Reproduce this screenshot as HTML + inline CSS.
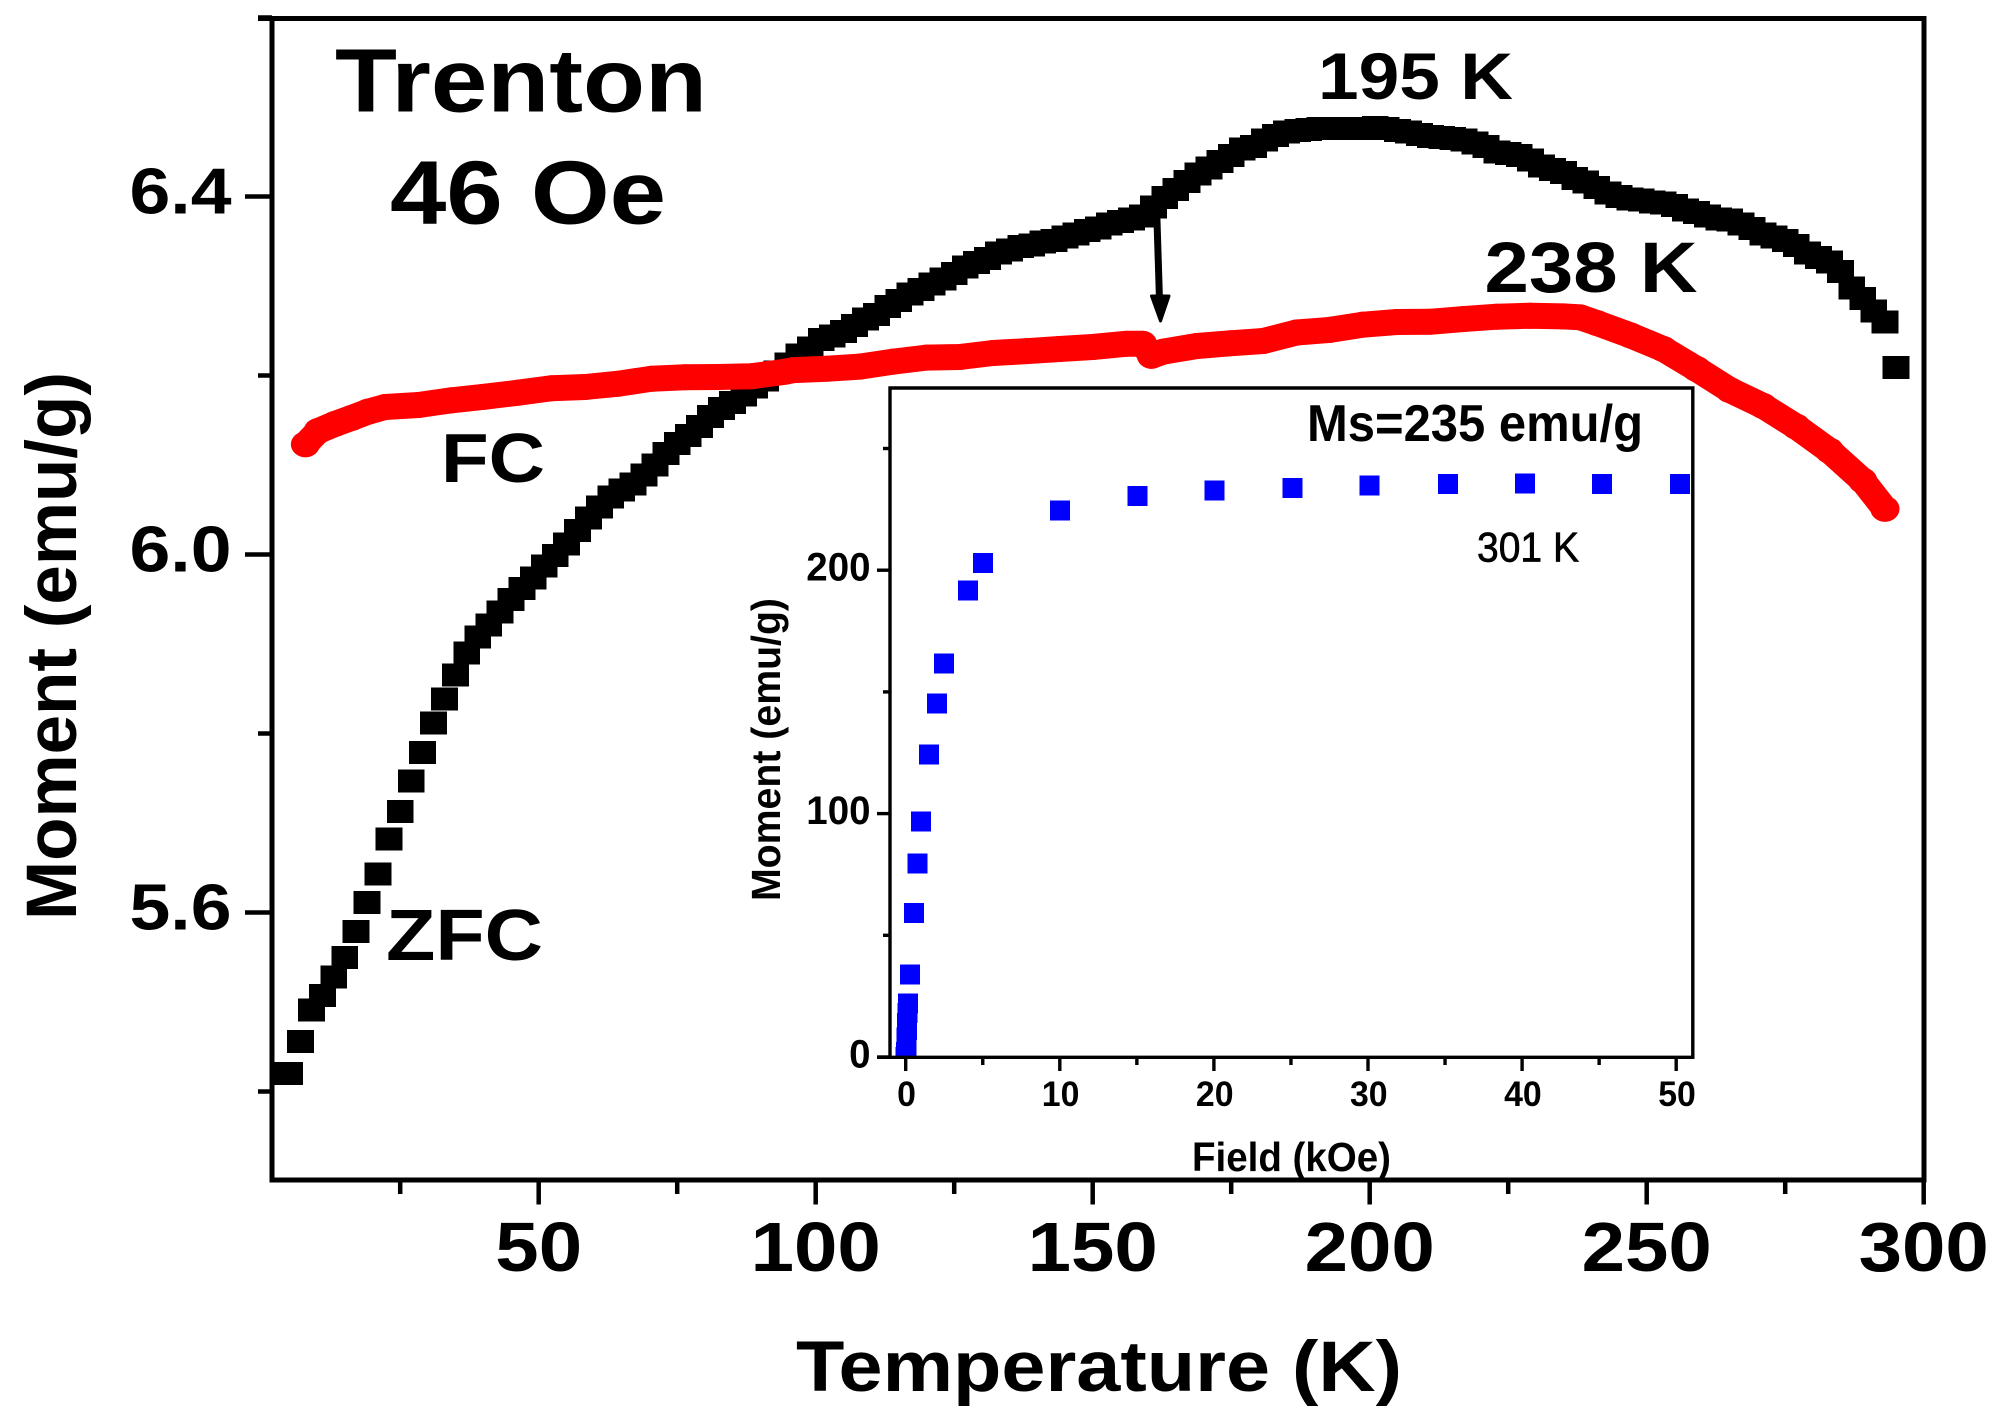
<!DOCTYPE html>
<html lang="en">
<head>
<meta charset="utf-8">
<title>Trenton 46 Oe moment vs temperature</title>
<style>
html,body{margin:0;padding:0;background:#fff;}
svg{display:block;}
text{font-family:"Liberation Sans",Arial,sans-serif;font-weight:bold;fill:#000;}
</style>
</head>
<body>
<svg id="chart" xmlns="http://www.w3.org/2000/svg" width="2004" height="1426" viewBox="0 0 2004 1426">
  <defs>
    <clipPath id="main-clip"><rect x="272" y="18" width="1652" height="1162"/></clipPath>
    <clipPath id="inset-clip"><rect x="891" y="389" width="799" height="669"/></clipPath>
  </defs>
  <rect x="0" y="0" width="2004" height="1426" fill="#fff"/>
  <g id="zfc-series" clip-path="url(#main-clip)"></g>
  <path d="M1156.5 205 L1159.5 300" stroke="#000" stroke-width="7" fill="none"/>
  <path d="M1151.5 296 L1169 296 L1160.5 321 Z" fill="#000" stroke="#000" stroke-width="3" stroke-linejoin="round"/>
  <g id="fc-series" clip-path="url(#main-clip)"></g>
  <g id="main-axes"></g>
  <g id="inset-series" clip-path="url(#inset-clip)"></g>
  <g id="inset-axes"></g>

  <text x="796" y="1391" font-size="71" textLength="606" lengthAdjust="spacingAndGlyphs">Temperature (K)</text>
  <text transform="translate(76,920) rotate(-90)" x="0" y="0" font-size="71" textLength="548" lengthAdjust="spacingAndGlyphs">Moment (emu/g)</text>
  <text x="335" y="111.5" font-size="90" textLength="372" lengthAdjust="spacingAndGlyphs">Trenton</text>
  <text x="390" y="223.5" font-size="90" textLength="276" lengthAdjust="spacingAndGlyphs">46 Oe</text>
  <text x="1318" y="99" font-size="66" textLength="195" lengthAdjust="spacingAndGlyphs">195 K</text>
  <text x="1484.5" y="292" font-size="71" textLength="213" lengthAdjust="spacingAndGlyphs">238 K</text>
  <text x="441" y="482" font-size="70" textLength="104" lengthAdjust="spacingAndGlyphs">FC</text>
  <text x="386" y="960" font-size="72" textLength="157" lengthAdjust="spacingAndGlyphs">ZFC</text>

  <text x="1307" y="441" font-size="52" textLength="336" lengthAdjust="spacingAndGlyphs">Ms=235 emu/g</text>
  <text x="1477" y="561.5" font-size="42" textLength="102" lengthAdjust="spacingAndGlyphs" style="font-weight:normal;stroke:#000;stroke-width:.7">301 K</text>
  <text x="1192" y="1171" font-size="41" textLength="199" lengthAdjust="spacingAndGlyphs">Field (kOe)</text>
  <text transform="translate(780,901) rotate(-90)" x="0" y="0" font-size="41" textLength="303" lengthAdjust="spacingAndGlyphs">Moment (emu/g)</text>
</svg>

<script>
// Main chart data: zero-field-cooled (ZFC) series
var zfcTemps = [3,5,7,9,11,13,15,17,19,21,23,25,27,29,31,33,35,37,39,41,43,45,47,49,51,53,55,57,59,61,63,65,67,69,71,73,75,77,79,81,83,85,87,89,91,93,95,97,99,101,103,105,107,109,111,113,115,117,119,121,123,125,127,129,131,133,135,137,139,141,143,145,147,149,151,153,155,157,159,161,163,165,167,169,171,173,175,177,179,181,183,185,187,189,191,193,195,197,199,201,203,205,207,209,211,213,215,217,219,221,223,225,227,229,231,233,235,237,239,241,243,245,247,249,251,253,255,257,259,261,263,265,267,269,271,273,275,277,279,281,283,285,287,289,291,293,295];
var zfcMoments = [5.42,5.42,5.456,5.491,5.507,5.528,5.55,5.579,5.611,5.643,5.682,5.713,5.747,5.779,5.812,5.8385,5.8655,5.89,5.908,5.921,5.936,5.95,5.962,5.974,5.987,5.999,6.012,6.027,6.041,6.053,6.064,6.072,6.079,6.089,6.1,6.113,6.124,6.133,6.143,6.154,6.163,6.17,6.178,6.187,6.195,6.204,6.213,6.223,6.231,6.24,6.244,6.249,6.256,6.263,6.268,6.277,6.284,6.291,6.296,6.302,6.308,6.314,6.321,6.326,6.331,6.337,6.34,6.344,6.346,6.349,6.351,6.355,6.358,6.362,6.365,6.369,6.372,6.375,6.378,6.388,6.399,6.408,6.417,6.425,6.432,6.439,6.446,6.453,6.456,6.463,6.468,6.472,6.474,6.475,6.476,6.476,6.476,6.476,6.476,6.477,6.476,6.474,6.472,6.469,6.467,6.466,6.465,6.463,6.46,6.456,6.45,6.448,6.446,6.441,6.434,6.43,6.427,6.42,6.416,6.41,6.404,6.4,6.397,6.396,6.394,6.393,6.39,6.385,6.382,6.378,6.375,6.374,6.369,6.364,6.358,6.355,6.351,6.345,6.337,6.332,6.327,6.316,6.298,6.286,6.272,6.26,6.209];

// Main chart data: field-cooled (FC) series
var fcTemps = [7.9,10.2,13.2,16.2,19.2,22.3,28.3,34.3,40.3,46.3,52.3,58.4,64.4,70.4,76.4,82.4,88.4,94.5,96,102,108,114,120,126,132,138,144,150,156,159,160.6,162.8,168.8,174.8,180.8,186.8,192.8,198.8,204.9,210.9,216.9,222.9,229,234.9,238,241,247,253,259,265,271,277,283,289,293];
var fcMoments = [6.1231,6.138,6.1458,6.1525,6.1596,6.1648,6.167,6.1723,6.1763,6.1808,6.1857,6.1872,6.1908,6.1964,6.198,6.1983,6.1991,6.2043,6.206,6.2076,6.21,6.2155,6.22,6.2207,6.2251,6.2272,6.2296,6.2318,6.2354,6.2354,6.222,6.2267,6.233,6.236,6.2385,6.248,6.251,6.2568,6.2598,6.26,6.263,6.2657,6.2668,6.266,6.265,6.2587,6.245,6.2296,6.2073,6.1838,6.166,6.1428,6.116,6.0825,6.051];

// Main chart tick values and labels
var xMajorTicks = [50,100,150,200,250,300];
var xMinorTicks = [25,75,125,175,225,275];
var yMajorTicks = [5.6,6.0,6.4];
var yMinorTicks = [5.4,5.8,6.2,6.6];
var xTickLabels = ["50","100","150","200","250","300"];
var yTickLabels = ["5.6","6.0","6.4"];

// Inset data: magnetisation versus field at 301 K
var insetFields = [0,0.02,0.04,0.06,0.08,0.1,0.12,0.15,0.28,0.54,0.78,0.99,1.51,2.03,2.5,4.04,5,10,15.05,20.05,25.1,30.1,35.2,40.2,45.2,50.25];
var insetMoments = [0,2,4,8,11,14,18,22,33.9,59.1,79.6,96.8,124.3,145.2,161.6,191.6,203,224.6,230.4,232.8,233.8,234.9,235.4,235.7,235.4,235.4];

// Inset tick values and labels
var insetXMajorTicks = [0,10,20,30,40,50];
var insetXMinorTicks = [5,15,25,35,45];
var insetYMajorTicks = [0,100,200];
var insetYMinorTicks = [50,150,250];
var insetXTickLabels = ["0","10","20","30","40","50"];
var insetYTickLabels = ["0","100","200"];

var SVGNS = "http://www.w3.org/2000/svg";

// Axis functions
function xT(t){ return 538.7 + (t - 50) * 5.54; }
function yM(m){ return 554.5 - (m - 6) * 895; }
function xH(h){ return 905.7 + h * 15.41; }
function yI(v){ return 1057 - v * 2.434; }

function make(tag, attrs, parent){
  var el = document.createElementNS(SVGNS, tag);
  for (var k in attrs){ el.setAttribute(k, attrs[k]); }
  parent.appendChild(el);
  return el;
}

var zfcGroup = document.getElementById("zfc-series");
var fcGroup = document.getElementById("fc-series");
var mainAxes = document.getElementById("main-axes");
var insetGroup = document.getElementById("inset-series");
var insetAxes = document.getElementById("inset-axes");

// ZFC square markers
zfcTemps.forEach(function(t, i){
  var el = make("rect", {x: xT(t) - 13.4, y: yM(zfcMoments[i]) - 11.5, width: 26.8, height: 23, fill: "#000", "shape-rendering": "crispEdges"}, zfcGroup);
  
  
});

// FC trace and round markers
var fcPath = fcTemps.map(function(t, i){ return (i ? "L" : "M") + xT(t).toFixed(1) + " " + yM(fcMoments[i]).toFixed(1); }).join(" ");
var fcLine = make("path", {d: fcPath, fill: "none", stroke: "#f00", "stroke-width": 26, "stroke-linejoin": "round"}, fcGroup);


fcTemps.forEach(function(t, i){
  var el = make("ellipse", {cx: xT(t), cy: yM(fcMoments[i]), rx: 14.6, ry: 13, fill: "#f00"}, fcGroup);
  
  
});

// Main axes spines
function spine(parent, name, x1, y1, x2, y2, w){
  var el = make("line", {x1: x1, y1: y1, x2: x2, y2: y2, stroke: "#000", "stroke-width": w}, parent);
  
  
  return el;
}
spine(mainAxes, "main-left-spine", 272, 16, 272, 1182.5, 5);
spine(mainAxes, "main-bottom-spine", 269.5, 1180, 1926.5, 1180, 5);
spine(mainAxes, "main-right-spine", 1924, 16, 1924, 1180, 5);
spine(mainAxes, "main-top-spine", 258, 18.5, 1926.5, 18.5, 5);

// Main ticks
xMajorTicks.forEach(function(t, i){
  spine(mainAxes, "x-major-tick", xT(t), 1180, xT(t), 1204.5, 4.5);
  var label = make("text", {x: xT(t) - (xTickLabels[i].length * 21.7), y: 1271, "font-size": 70, textLength: xTickLabels[i].length * 43.4, lengthAdjust: "spacingAndGlyphs"}, mainAxes);
  label.textContent = xTickLabels[i];
  
  
});
xMinorTicks.forEach(function(t){
  spine(mainAxes, "x-minor-tick", xT(t), 1180, xT(t), 1194, 4.5);
});
yMajorTicks.forEach(function(m, i){
  spine(mainAxes, "y-major-tick", 245, yM(m), 272, yM(m), 4.5);
  var label = make("text", {x: 129.5, y: yM(m) + 17, "font-size": 65, textLength: 102, lengthAdjust: "spacingAndGlyphs"}, mainAxes);
  label.textContent = yTickLabels[i];
  
  
});
yMinorTicks.forEach(function(m){
  spine(mainAxes, "y-minor-tick", 258, yM(m), 272, yM(m), 4.5);
});

// Inset blue square markers
insetFields.forEach(function(h, i){
  var el = make("rect", {x: xH(h) - 10, y: yI(insetMoments[i]) - 10, width: 20, height: 20, fill: "#00f", "shape-rendering": "crispEdges"}, insetGroup);
  
  
});

// Inset spines
spine(insetAxes, "inset-left-spine", 890, 386.5, 890, 1059, 3.4);
spine(insetAxes, "inset-bottom-spine", 877, 1057.3, 1694.5, 1057.3, 3.4);
spine(insetAxes, "inset-right-spine", 1692.8, 386.5, 1692.8, 1059, 3.4);
spine(insetAxes, "inset-top-spine", 888.5, 388, 1694.5, 388, 3.4);

// Inset ticks
insetXMajorTicks.forEach(function(h, i){
  spine(insetAxes, "inset-x-major-tick", xH(h), 1057.3, xH(h), 1071, 3.4);
  var label = make("text", {x: xH(h) + 0.8 - insetXTickLabels[i].length * 9.4, y: 1106, "font-size": 35, textLength: insetXTickLabels[i].length * 18.8, lengthAdjust: "spacingAndGlyphs"}, insetAxes);
  label.textContent = insetXTickLabels[i];
  
  
});
insetXMinorTicks.forEach(function(h){
  spine(insetAxes, "inset-x-minor-tick", xH(h), 1057.3, xH(h), 1065, 3.4);
});
insetYMajorTicks.forEach(function(v, i){
  spine(insetAxes, "inset-y-major-tick", 877, yI(v), 890, yI(v), 3.4);
  var chars = insetYTickLabels[i].length;
  var label = make("text", {x: 870.5 - chars * 21.4, y: yI(v) + 10.5, "font-size": 40, textLength: chars * 21.4, lengthAdjust: "spacingAndGlyphs"}, insetAxes);
  label.textContent = insetYTickLabels[i];
  
  
});
insetYMinorTicks.forEach(function(v){
  spine(insetAxes, "inset-y-minor-tick", 883, yI(v), 890, yI(v), 3.4);
});
</script>
</body>
</html>
